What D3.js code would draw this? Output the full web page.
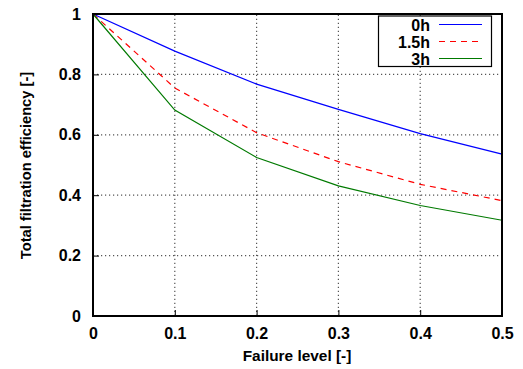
<!DOCTYPE html>
<html>
<head>
<meta charset="utf-8">
<script src="https://cdn.jsdelivr.net/npm/d3@7"></script>
<style>
  body { margin: 0; background: #fff; }
  text { font-family: "Liberation Sans", Arial, sans-serif; font-weight: bold; }
</style>
</head>
<body>
<svg id="chart" width="523" height="369"></svg>
<script>
// failure level on x, efficiency per ageing time
let levels = [0, 0.1, 0.2, 0.3, 0.4, 0.5]
let eff_0h = [1, 0.877, 0.768, 0.684, 0.604, 0.536]
let eff_15h = [1, 0.755, 0.607, 0.511, 0.436, 0.382]
let eff_3h = [1, 0.682, 0.525, 0.431, 0.366, 0.317]
let series_names = ["0h", "1.5h", "3h"]
let x_ticks = [0, 0.1, 0.2, 0.3, 0.4, 0.5]
let y_ticks = [0, 0.2, 0.4, 0.6, 0.8, 1]

let width = 523,
    height = 369,
    margins = {top: 14, bottom: 53, left: 93, right: 21}

let series = [
  {name: series_names[0], values: eff_0h, color: "#0000ff", dash: null},
  {name: series_names[1], values: eff_15h, color: "#ff0000", dash: "6,5"},
  {name: series_names[2], values: eff_3h, color: "#007a00", dash: null}
]

let svg = d3.select("#chart")

let x = d3.scaleLinear()
  .domain([0, 0.5])
  .range([margins.left, width - margins.right])
let y = d3.scaleLinear()
  .domain([0, 1])
  .range([height - margins.bottom, margins.top])

// dotted grid
let grid = svg.append("g")
grid.selectAll("line.gx")
  .data(x_ticks.slice(1, -1)).enter()
  .append("line")
  .attr("x1", d => x(d)).attr("x2", d => x(d))
  .attr("y1", y(0)).attr("y2", y(1))
grid.selectAll("line.gy")
  .data(y_ticks.slice(1, -1)).enter()
  .append("line")
  .attr("x1", x(0)).attr("x2", x(0.5))
  .attr("y1", d => y(d)).attr("y2", d => y(d))
grid.selectAll("line")
  .attr("stroke", "#555")
  .attr("stroke-width", 1.2)
  .attr("stroke-dasharray", "1.2,2.8")

// axes with inward ticks
let x_axis = d3.axisBottom(x).tickValues(x_ticks).tickFormat(d3.format("")).tickSize(-6).tickPadding(12)
let y_axis = d3.axisLeft(y).tickValues(y_ticks).tickFormat(d3.format("")).tickSize(-6).tickPadding(12)

svg.append("g")
  .attr("transform", `translate(0,${y(0)})`)
  .call(x_axis)
svg.append("g")
  .attr("transform", `translate(${x(0)},0)`)
  .call(y_axis)
svg.selectAll(".tick text").attr("font-size", 16).attr("fill", "#000")
svg.selectAll(".tick line").attr("stroke", "#000")
svg.selectAll(".domain").remove()

// lines
let line = d3.line()
  .x((d, i) => x(levels[i]))
  .y(d => y(d))

svg.append("g")
  .selectAll("path")
  .data(series).enter()
  .append("path")
  .attr("d", d => line(d.values))
  .attr("fill", "none")
  .attr("stroke", d => d.color)
  .attr("stroke-width", 1.2)
  .attr("stroke-dasharray", d => d.dash)

// frame
svg.append("rect")
  .attr("x", x(0)).attr("y", y(1))
  .attr("width", x(0.5) - x(0))
  .attr("height", y(0) - y(1))
  .attr("fill", "none")
  .attr("stroke", "#000")
  .attr("stroke-width", 2)

// legend
let legend = svg.append("g")
legend.append("rect")
  .attr("x", 378.5).attr("y", 16)
  .attr("width", 113).attr("height", 50.5)
  .attr("fill", "#fff")
  .attr("stroke", "#000")
  .attr("stroke-width", 1.2)
let rows = legend.selectAll("g.row")
  .data(series).enter()
  .append("g")
  .attr("transform", (d, i) => `translate(0,${24.5 + i * 17})`)
rows.append("text")
  .attr("x", 430).attr("y", 6)
  .attr("text-anchor", "end")
  .attr("font-size", 16)
  .text(d => d.name)
rows.append("line")
  .attr("x1", 439).attr("x2", 482)
  .attr("stroke", d => d.color)
  .attr("stroke-width", 1.2)
  .attr("stroke-dasharray", d => d.dash)

// axis titles
svg.append("text")
  .attr("x", 297)
  .attr("y", 361)
  .attr("text-anchor", "middle")
  .attr("font-size", 15.4)
  .text("Failure level [-]")
svg.append("text")
  .attr("transform", `translate(31,165.5) rotate(-90)`)
  .attr("text-anchor", "middle")
  .attr("font-size", 14.7)
  .text("Total filtration efficiency [-]")
</script>
</body>
</html>
